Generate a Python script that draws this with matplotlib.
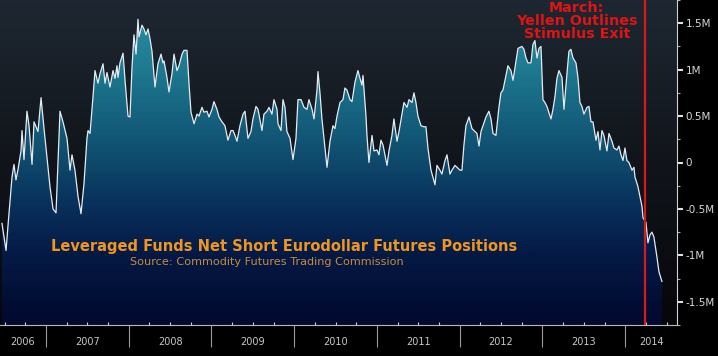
import numpy as np
import matplotlib.pyplot as plt
from matplotlib.colors import LinearSegmentedColormap
from matplotlib.transforms import blended_transform_factory

# weekly net short position (decimal year, millions of contracts)
years = [2006.468, 2006.517, 2006.541, 2006.589, 2006.613, 2006.637, 2006.662, 2006.698, 2006.710, 2006.734,
         2006.770, 2006.795, 2006.831, 2006.855, 2006.903, 2006.940, 2006.976, 2007.000, 2007.048, 2007.085,
         2007.121, 2007.169, 2007.205, 2007.254, 2007.290, 2007.314, 2007.350, 2007.387, 2007.423, 2007.459,
         2007.495, 2007.508, 2007.532, 2007.568, 2007.592, 2007.628, 2007.653, 2007.689, 2007.713, 2007.737,
         2007.773, 2007.810, 2007.834, 2007.858, 2007.870, 2007.894, 2007.931, 2007.955, 2007.991, 2008.015,
         2008.039, 2008.063, 2008.088, 2008.112, 2008.124, 2008.160, 2008.184, 2008.208, 2008.233, 2008.257,
         2008.281, 2008.317, 2008.353, 2008.390, 2008.414, 2008.426, 2008.462, 2008.486, 2008.523, 2008.547,
         2008.583, 2008.607, 2008.644, 2008.668, 2008.704, 2008.728, 2008.752, 2008.789, 2008.825, 2008.849,
         2008.885, 2008.909, 2008.946, 2008.970, 2009.006, 2009.030, 2009.066, 2009.091, 2009.127, 2009.163,
         2009.199, 2009.236, 2009.260, 2009.284, 2009.308, 2009.344, 2009.381, 2009.405, 2009.441, 2009.477,
         2009.501, 2009.538, 2009.562, 2009.610, 2009.634, 2009.671, 2009.695, 2009.731, 2009.755, 2009.792,
         2009.804, 2009.840, 2009.864, 2009.888, 2009.912, 2009.949, 2009.985, 2010.021, 2010.045, 2010.082,
         2010.118, 2010.154, 2010.178, 2010.215, 2010.239, 2010.275, 2010.287, 2010.311, 2010.335, 2010.360,
         2010.396, 2010.432, 2010.468, 2010.492, 2010.517, 2010.553, 2010.589, 2010.613, 2010.637, 2010.674,
         2010.698, 2010.734, 2010.770, 2010.795, 2010.819, 2010.831, 2010.867, 2010.879, 2010.903, 2010.940,
         2010.964, 2011.000, 2011.024, 2011.048, 2011.073, 2011.121, 2011.145, 2011.181, 2011.205, 2011.242,
         2011.266, 2011.302, 2011.326, 2011.363, 2011.387, 2011.423, 2011.447, 2011.471, 2011.495, 2011.532,
         2011.568, 2011.592, 2011.616, 2011.653, 2011.701, 2011.725, 2011.761, 2011.785, 2011.822, 2011.846,
         2011.882, 2011.906, 2011.943, 2011.967, 2012.003, 2012.027, 2012.051, 2012.075, 2012.112, 2012.148,
         2012.172, 2012.208, 2012.233, 2012.257, 2012.281, 2012.317, 2012.353, 2012.378, 2012.402, 2012.438,
         2012.474, 2012.498, 2012.523, 2012.559, 2012.583, 2012.619, 2012.644, 2012.680, 2012.704, 2012.752,
         2012.776, 2012.801, 2012.825, 2012.861, 2012.885, 2012.909, 2012.934, 2012.958, 2012.982, 2013.006,
         2013.030, 2013.054, 2013.103, 2013.127, 2013.151, 2013.175, 2013.199, 2013.236, 2013.260, 2013.296,
         2013.320, 2013.344, 2013.369, 2013.405, 2013.429, 2013.453, 2013.477, 2013.501, 2013.538, 2013.562,
         2013.586, 2013.610, 2013.647, 2013.671, 2013.695, 2013.719, 2013.743, 2013.779, 2013.804, 2013.840,
         2013.864, 2013.900, 2013.924, 2013.949, 2013.973, 2013.997, 2014.021, 2014.045, 2014.082, 2014.106,
         2014.118, 2014.154, 2014.178, 2014.202, 2014.215, 2014.251, 2014.275, 2014.299, 2014.323, 2014.347,
         2014.384, 2014.408, 2014.444]
net_short = [-0.656, -0.948, -0.677, -0.156, -0.021, -0.188, -0.073, 0.125, 0.344, 0.031,
             0.552, 0.396, -0.021, 0.438, 0.333, 0.698, 0.365, 0.156, -0.260, -0.500,
             -0.542, 0.552, 0.438, 0.260, -0.083, 0.083, -0.083, -0.365, -0.552, -0.229,
             0.260, 0.344, 0.313, 0.708, 0.990, 0.854, 0.958, 1.063, 0.854, 0.969,
             0.813, 0.990, 0.906, 1.042, 0.917, 1.073, 1.177, 0.885, 0.500, 0.490,
             1.021, 1.375, 1.167, 1.542, 1.354, 1.479, 1.438, 1.375, 1.438, 1.333,
             1.198, 0.813, 1.063, 1.167, 1.073, 1.094, 0.917, 0.760, 0.958, 1.167,
             0.990, 1.042, 1.167, 1.208, 1.208, 0.854, 0.542, 0.417, 0.521, 0.500,
             0.594, 0.542, 0.552, 0.490, 0.573, 0.656, 0.573, 0.490, 0.438, 0.396,
             0.240, 0.344, 0.344, 0.292, 0.229, 0.396, 0.521, 0.552, 0.260, 0.333,
             0.469, 0.604, 0.573, 0.344, 0.521, 0.552, 0.594, 0.521, 0.677, 0.573,
             0.417, 0.344, 0.677, 0.594, 0.333, 0.260, 0.031, 0.260, 0.677, 0.677,
             0.594, 0.573, 0.677, 0.573, 0.469, 0.781, 0.979, 0.750, 0.469, 0.260,
             -0.052, 0.229, 0.396, 0.365, 0.500, 0.646, 0.677, 0.802, 0.781, 0.677,
             0.656, 0.865, 0.990, 0.906, 0.833, 0.938, 0.500, 0.292, 0.000, 0.292,
             0.125, 0.135, 0.083, 0.240, 0.188, -0.031, 0.125, 0.292, 0.469, 0.229,
             0.333, 0.521, 0.646, 0.594, 0.677, 0.646, 0.750, 0.646, 0.500, 0.396,
             0.385, 0.385, 0.156, -0.083, -0.240, -0.031, -0.083, -0.125, 0.021, 0.083,
             -0.125, -0.083, -0.031, -0.052, -0.083, -0.083, 0.188, 0.396, 0.490, 0.365,
             0.344, 0.313, 0.177, 0.333, 0.396, 0.490, 0.552, 0.469, 0.313, 0.292,
             0.594, 0.750, 0.781, 0.938, 1.042, 0.990, 0.885, 1.094, 1.229, 1.250,
             1.219, 1.125, 1.073, 1.073, 1.271, 1.313, 1.125, 1.229, 1.250, 0.677,
             0.646, 0.604, 0.469, 0.573, 0.708, 0.906, 0.990, 0.917, 0.573, 0.958,
             1.198, 1.219, 1.125, 1.073, 0.917, 0.646, 0.604, 0.521, 0.594, 0.604,
             0.438, 0.438, 0.240, 0.333, 0.135, 0.344, 0.292, 0.125, 0.313, 0.229,
             0.156, 0.135, 0.177, 0.083, 0.021, 0.156, 0.021, 0.000, -0.083, -0.052,
             -0.156, -0.260, -0.365, -0.469, -0.594, -0.646, -0.865, -0.781, -0.750, -0.802,
             -1.021, -1.177, -1.281]

year_labels = [2006, 2007, 2008, 2009, 2010, 2011, 2012, 2013, 2014]
ytick_vals = [-1.5, -1.0, -0.5, 0, 0.5, 1.0, 1.5]
ytick_text = ['-1.5M', '-1M', '-0.5M', '0', '0.5M', '1M', '1.5M']
yellen_march = 2014.24

x0, x1 = 2006.444, 2014.626
y0, y1 = -1.667, 1.719

fig = plt.figure(figsize=(7.18, 3.56), dpi=100, facecolor='black')
ax = fig.add_axes([0, 31/356, 677/718, 325/356])
ax.set_facecolor('#06070b')

# gradients drawn a bit larger than the axes so no edge shows
ext = [x0 - 0.5, x1 + 0.5, y0 - 0.5, y1 + 0.5]
yy = np.linspace(ext[2], ext[3], 400).reshape(-1, 1)
bg = LinearSegmentedColormap.from_list('bg', ['#06070b', '#11151b', '#1e2731'])
ax.imshow(yy, cmap=bg, vmin=y0, vmax=y1, extent=ext, aspect='auto', origin='lower',
          interpolation='bilinear', zorder=0)

fillcm = LinearSegmentedColormap.from_list('fill', [(0.0, '#020a30'), (0.2, '#041a45'), (0.35, '#082f5a'),
                                                     (0.49, '#0e486b'), (0.64, '#15617e'), (0.79, '#1e7990'),
                                                     (1.0, '#2a90a6')])
img = ax.imshow(yy, cmap=fillcm, vmin=y0, vmax=y1, extent=ext, aspect='auto', origin='lower',
                interpolation='bilinear', zorder=1)
poly = ax.fill_between(years, net_short, y0 - 0.5, facecolor='none', edgecolor='none')
img.set_clip_path(poly.get_paths()[0], transform=ax.transData)

ax.plot(years, net_short, color='#e4ecf2', lw=0.9, zorder=3)
ax.axvline(yellen_march, color='#d81a1a', lw=1.6, zorder=4)

ax.set_xlim(x0, x1)
ax.set_ylim(y0, y1)

# axes styling
for s in ['top', 'left']:
    ax.spines[s].set_visible(False)
ax.spines['bottom'].set_color('#b8b8b8')
ax.spines['right'].set_color('#d0d0d0')
ax.spines['bottom'].set_linewidth(0.8)
ax.spines['right'].set_linewidth(0.8)

ax.yaxis.tick_right()
ax.set_yticks(ytick_vals)
ax.set_yticklabels(ytick_text)
ax.set_yticks(np.arange(-1.75, 1.76, 0.5), minor=True)
ax.tick_params(axis='y', which='major', direction='out', length=4, width=1.5,
               color='#e0e0e0', labelcolor='#d8d8d8', labelsize=7.5, pad=2)
ax.tick_params(axis='y', which='minor', direction='out', length=2.5, width=0.8, color='#b0b0b0')

ax.set_xticks(range(2007, 2015))
ax.set_xticklabels([])
ax.set_xticks(np.arange(2006.5, 2014.6, 0.25), minor=True)
ax.tick_params(axis='x', which='major', direction='out', length=16, width=0.8, color='#9a9a9a')
ax.tick_params(axis='x', which='minor', direction='in', length=2.5, width=0.8, color='#d0d0d0')

trans = blended_transform_factory(ax.transData, ax.transAxes)
for yr in year_labels:
    lo, hi = max(yr, x0), min(yr + 1, x1)
    ax.text((lo + hi) / 2, -0.052, str(yr), transform=trans, ha='center', va='center',
            color='#c8c8c8', fontsize=7)

ax.text(0.0753, 0.243, 'Leveraged Funds Net Short Eurodollar Futures Positions', transform=ax.transAxes,
        color='#f0951f', fontsize=10.5, fontweight='bold', ha='left', va='center', zorder=5)
ax.text(0.192, 0.194, 'Source: Commodity Futures Trading Commission', transform=ax.transAxes,
        color='#c98a3c', fontsize=8.1, ha='left', va='center', zorder=5)
ax.text(0.852, 0.935, 'March:\nYellen Outlines\nStimulus Exit', transform=ax.transAxes,
        color='#e01414', fontsize=10.3, fontweight='bold', ha='center', va='center',
        multialignment='center', linespacing=0.92, zorder=5)

fig.savefig('out.png', dpi=100, facecolor='black')
